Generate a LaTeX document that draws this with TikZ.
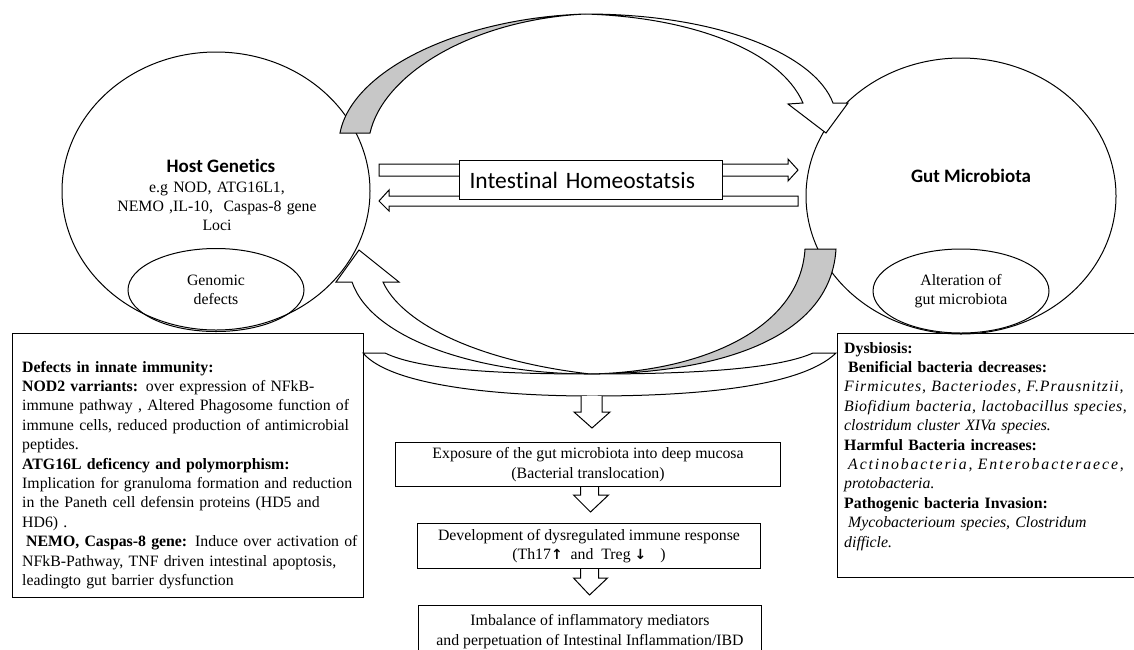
\documentclass[tikz,border=0pt]{standalone}
\usepackage{fontspec}
\setmainfont{Liberation Serif}
\newfontfamily\calib[Ligatures=NoCommon]{Carlito}
\newfontfamily\djv{DejaVu Sans}
\usetikzlibrary{shapes.geometric,calc}
\newcommand\serf{\fontsize{15.8}{19.4}\selectfont}
\newcommand\jline[1]{\makebox[\linewidth][s]{#1}}
\newcommand\arrsym[1]{{\djv\bfseries\fontsize{14}{14}\selectfont #1}}
\newcommand\spreadit[2]{{\addfontfeature{LetterSpace=#1}#2}}
\begin{document}
\begin{tikzpicture}[x=1pt,y=-1pt,
  box/.style={draw, line width=1pt},
  blk/.style={draw, fill=white, line width=1pt, line join=miter},
  shadeblk/.style={draw, fill=black!22, line width=1pt, line join=miter},
  oval/.style={draw, ellipse, line width=1pt, inner sep=0pt},
  txt/.style={inner sep=0pt, font=\serf},
]
\useasboundingbox (0,0) rectangle (1134,649);

% ellipses
\node[oval, minimum width=308pt, minimum height=278pt] (host) at (216,191) {};
\node[oval, minimum width=176pt, minimum height=83pt, align=center, font=\serf] (genom) at (216,290) {Genomic\\defects};
\node[oval, minimum width=310pt, minimum height=276pt] (gut) at (961,196) {};
\node[oval, minimum width=176pt, minimum height=84pt, align=center, font=\serf] (alter) at (961,291) {Alteration of\\gut microbiota};

\node[anchor=base, inner sep=0pt, font=\calib\bfseries\fontsize{19}{22}\selectfont] (hostlbl) at (221,172) {Host Genetics};
\node[txt, anchor=base, text width=260pt, align=center] (hostgenes) at (217,192) {e.g NOD, ATG16L1,\\NEMO ,IL-10,\ \ Caspas-8 gene\\Loci};
\node[anchor=base, inner sep=0pt, font=\calib\bfseries\fontsize{19}{22}\selectfont] (gutlbl) at (971,182) {Gut Microbiota};

% side boxes
\node[box, anchor=north west, minimum width=351pt, minimum height=264pt, inner sep=0pt] (lbox) at (12,333) {};
\node[txt, anchor=base west, text width=331pt, align=left] (ltxt) at (22,372) {%
{\bfseries Defects in innate immunity:}\\
\jline{{\bfseries NOD2 varriants:} over expression of NFkB-}\\
\jline{immune pathway , Altered Phagosome function of}\\
\jline{immune cells, reduced production of antimicrobial}\\
peptides.\\
{\bfseries ATG16L deficency and polymorphism:}\\
\jline{Implication for granuloma formation and reduction}\\
\jline{in the Paneth cell  defensin proteins (HD5 and}\\
HD6) .\\
\jline{\hspace*{4pt}{\bfseries NEMO, Caspas-8 gene:} Induce over activation of}\\
\jline{NFkB-Pathway, TNF driven intestinal apoptosis,}\\
leadingto gut barrier dysfunction};

\node[box, anchor=north west, minimum width=305pt, minimum height=244pt, inner sep=0pt] (rbox) at (837,333) {};
\node[txt, anchor=base west, text width=300pt, align=left] (rtxt) at (844,353) {%
{\bfseries Dysbiosis:}\\
\hspace*{4pt}{\bfseries Benificial bacteria decreases:}\\
{\itshape\spreadit{6}{Firmicutes, Bacteriodes, F.Prausnitzii,}}\\
{\itshape\spreadit{3}{Biofidium bacteria, lactobacillus species,}}\\
{\itshape clostridum cluster XIVa species.}\\
{\bfseries Harmful Bacteria increases:}\\
\hspace*{4pt}{\itshape\spreadit{12}{Actinobacteria, Enterobacteraece,}}\\
{\itshape protobacteria.}\\
{\bfseries Pathogenic bacteria Invasion:}\\
\hspace*{4pt}{\itshape Mycobacterioum species, Clostridum}\\
{\itshape difficle.}};

% centre boxes
\node[box, anchor=north west, minimum width=385pt, minimum height=44pt, inner sep=0pt, align=center, font=\serf] (b1) at (395,442) {Exposure of the gut microbiota into deep mucosa\\(Bacterial translocation)};
\node[box, anchor=north west, minimum width=343pt, minimum height=45pt, inner sep=0pt, align=center, font=\serf] (b2) at (417,523) {Development of dysregulated immune response\\(Th17\arrsym{↑}\ \ and\ \ Treg \arrsym{↓}\hspace{14pt})};
\node[box, anchor=north west, minimum width=343pt, minimum height=52pt, inner sep=0pt, align=center, font=\serf] (b3) at (418,605) {Imbalance of inflammatory mediators\\and perpetuation of Intestinal Inflammation/IBD};

% homeostasis double arrows
\draw[blk] (379,164) -- (788,164) -- (788,159) -- (798,170) -- (788,181) -- (788,176) -- (379,176) -- cycle;
\draw[blk] (798,196) -- (389,196) -- (389,190) -- (379,201) -- (389,211) -- (389,206) -- (798,206) -- cycle;
\node[box, fill=white, anchor=north west, minimum width=263pt, minimum height=39pt, inner xsep=10pt, inner ysep=0pt, text width=243pt, align=left, font=\calib\fontsize{23.5}{26}\selectfont] (hom) at (459,160) {Intestinal Homeostatsis};

% top curved arrow (host -> gut)
\draw[shadeblk] (340,133) .. controls (352,70) and (460,18) .. (585,14) .. controls (470,20) and (383,75) .. (370,133) -- cycle;
\draw[blk] (585,14) .. controls (720,14) and (815,55) .. (833,103) -- (848,103) -- (826,133) -- (788,104) -- (803,103) .. controls (780,50) and (690,17) .. (585,14) -- cycle;

% bottom curved arrow (gut -> host)
\draw[shadeblk] (836,249) .. controls (830,350) and (690,374) .. (590,374) .. controls (700,372) and (800,330) .. (805,249) -- cycle;
\draw[blk] (590,374) .. controls (480,374) and (372,340) .. (352,282) -- (336,282) -- (359,250) -- (399,282) -- (383,282) .. controls (400,320) and (470,360) .. (590,374) -- cycle;

% bracket joining both side boxes
\draw[blk] (363,353) -- (385,353) .. controls (420,370) and (500,374) .. (592,374) .. controls (684,374) and (775,370) .. (813,353) -- (836,353) .. controls (800,388) and (690,396) .. (592,396) .. controls (494,396) and (390,385) .. (363,353) -- cycle;

% down block arrows
\coordinate (d0) at (592,396);
\draw[blk] ($(d0)+(-11,0)$) -- ++(0,16) -- ++(-7,0) -- ++(18,16) -- ++(18,-16) -- ++(-8,0) -- ++(0,-16);
\draw[blk] ($(b1.south)+(-7.5,0)$) -- ++(0,8) -- ++(-7,0) -- ++(17,17) -- ++(18,-17) -- ++(-10,0) -- ++(0,-8);
\draw[blk] ($(b2.south)+(-8.5,0)$) -- ++(0,9) -- ++(-7,0) -- ++(16,17) -- ++(18,-17) -- ++(-9,0) -- ++(0,-9);
\end{tikzpicture}
\end{document}
